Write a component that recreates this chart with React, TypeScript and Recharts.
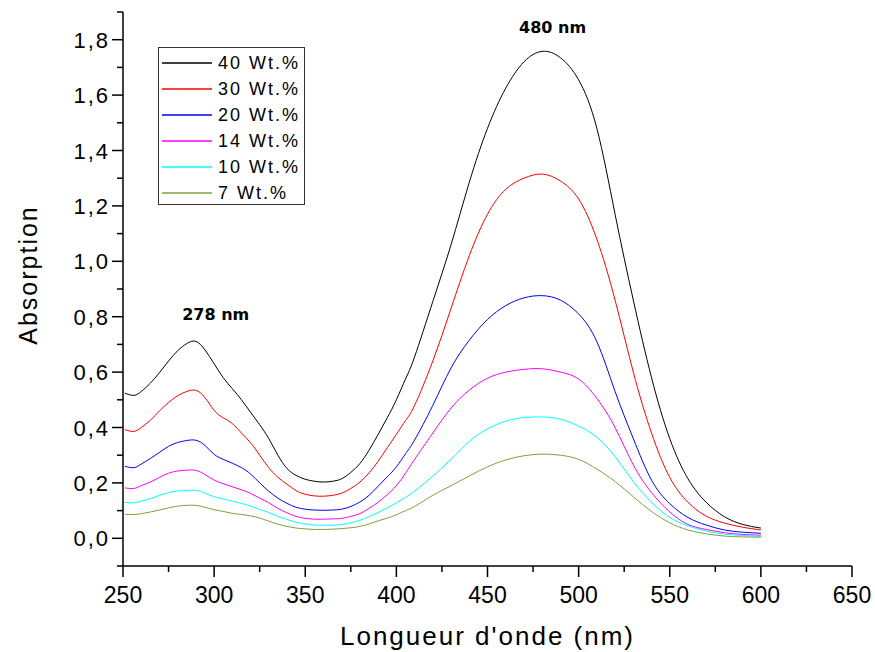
import React from 'react';
import { LineChart, Line, XAxis, YAxis, Legend, ReferenceDot } from 'recharts';

const WAVELENGTHS = [251, 256, 260, 265, 270, 275, 280, 285, 290, 295, 300, 305, 310, 315, 320, 325, 330, 335, 340, 345, 350, 355, 360, 365, 370, 375, 380, 385, 390, 395, 400, 405, 410, 420, 430, 440, 450, 460, 470, 480, 490, 500, 510, 520, 530, 540, 550, 560, 570, 580, 590, 600];

const WT40 = [0.524, 0.516, 0.53, 0.56, 0.598, 0.64, 0.677, 0.703, 0.711, 0.68, 0.63, 0.58, 0.54, 0.5, 0.455, 0.41, 0.36, 0.3, 0.252, 0.227, 0.213, 0.206, 0.203, 0.206, 0.215, 0.238, 0.27, 0.318, 0.375, 0.435, 0.5, 0.575, 0.655, 0.855, 1.06, 1.285, 1.48, 1.625, 1.72, 1.758, 1.735, 1.655, 1.48, 1.17, 0.86, 0.58, 0.36, 0.215, 0.13, 0.078, 0.05, 0.037];
const WT30 = [0.392, 0.386, 0.4, 0.426, 0.46, 0.49, 0.515, 0.53, 0.534, 0.508, 0.462, 0.435, 0.414, 0.38, 0.345, 0.3, 0.255, 0.22, 0.195, 0.172, 0.159, 0.153, 0.152, 0.155, 0.163, 0.18, 0.203, 0.236, 0.278, 0.327, 0.375, 0.425, 0.48, 0.64, 0.83, 1.02, 1.17, 1.26, 1.3, 1.315, 1.29, 1.225, 1.08, 0.86, 0.6, 0.38, 0.22, 0.13, 0.08, 0.055, 0.04, 0.03];
const WT20 = [0.26, 0.255, 0.268, 0.288, 0.31, 0.332, 0.346, 0.353, 0.354, 0.335, 0.303, 0.285, 0.271, 0.255, 0.232, 0.2, 0.17, 0.145, 0.126, 0.112, 0.105, 0.102, 0.101, 0.102, 0.105, 0.115, 0.131, 0.155, 0.188, 0.222, 0.258, 0.305, 0.355, 0.48, 0.615, 0.715, 0.79, 0.84, 0.868, 0.876, 0.86, 0.81, 0.71, 0.53, 0.36, 0.21, 0.125, 0.075, 0.048, 0.03, 0.022, 0.018];
const WT14 = [0.182, 0.18, 0.19, 0.203, 0.22, 0.235, 0.243, 0.246, 0.245, 0.23, 0.21, 0.197, 0.186, 0.175, 0.162, 0.145, 0.128, 0.108, 0.092, 0.079, 0.072, 0.069, 0.069, 0.07, 0.072, 0.079, 0.089, 0.108, 0.13, 0.158, 0.19, 0.235, 0.285, 0.38, 0.47, 0.535, 0.578, 0.6, 0.61, 0.612, 0.6, 0.575, 0.505, 0.4, 0.265, 0.165, 0.095, 0.05, 0.032, 0.02, 0.014, 0.011];
const WT10 = [0.13, 0.128, 0.134, 0.143, 0.155, 0.165, 0.171, 0.173, 0.173, 0.163, 0.15, 0.142, 0.134, 0.126, 0.116, 0.104, 0.093, 0.079, 0.068, 0.058, 0.052, 0.048, 0.047, 0.047, 0.05, 0.056, 0.065, 0.078, 0.093, 0.11, 0.128, 0.148, 0.17, 0.225, 0.285, 0.35, 0.395, 0.423, 0.436, 0.438, 0.43, 0.405, 0.365, 0.295, 0.205, 0.13, 0.075, 0.045, 0.026, 0.015, 0.01, 0.007];
const WT7 = [0.087, 0.086, 0.089, 0.095, 0.102, 0.11, 0.116, 0.119, 0.119, 0.112, 0.103, 0.097, 0.09, 0.086, 0.081, 0.073, 0.062, 0.051, 0.043, 0.037, 0.034, 0.032, 0.032, 0.033, 0.035, 0.038, 0.043, 0.052, 0.063, 0.073, 0.085, 0.1, 0.115, 0.155, 0.19, 0.225, 0.258, 0.283, 0.298, 0.304, 0.3, 0.285, 0.25, 0.205, 0.15, 0.097, 0.056, 0.03, 0.016, 0.008, 0.005, 0.004];

const SERIES_NAMES = ['40 Wt.%', '30 Wt.%', '20 Wt.%', '14 Wt.%', '10 Wt.%', '7 Wt.%'];
const SERIES_KEYS = ['wt40', 'wt30', 'wt20', 'wt14', 'wt10', 'wt7'];
const SERIES_COLORS = ['#000000', '#ff0000', '#0000ff', '#ff00ff', '#00ffff', '#7ba23f'];

const X_TICKS = [250, 275, 300, 325, 350, 375, 400, 425, 450, 475, 500, 525, 550, 575, 600, 625, 650];
const Y_TICKS = [-0.1, 0, 0.1, 0.2, 0.3, 0.4, 0.5, 0.6, 0.7, 0.8, 0.9, 1.0, 1.1, 1.2, 1.3, 1.4, 1.5, 1.6, 1.7, 1.8, 1.9];

const ANNOTATION_TEXTS = ['278 nm', '480 nm'];
const ANNOTATION_X = [300.9, 485.7];
const ANNOTATION_Y = [0.807, 1.845];

const data = WAVELENGTHS.map((wl, i) => ({
  wl,
  wt40: WT40[i],
  wt30: WT30[i],
  wt20: WT20[i],
  wt14: WT14[i],
  wt10: WT10[i],
  wt7: WT7[i],
}));

const FONT = 'Arial, "Liberation Sans", Helvetica, sans-serif';

const XTick = (props: any) => {
  const { x, y, payload } = props;
  const v = payload.value;
  const major = Math.round(v) % 50 === 0;
  return (
    <g>
      <line x1={x} y1={y} x2={x} y2={y + (major ? 11 : 6)} stroke="#000" strokeWidth={1.5} />
      {major && (
        <text x={x} y={y + 37} textAnchor="middle" fontSize={23} fontFamily={FONT} fill="#000">
          {String(v)}
        </text>
      )}
    </g>
  );
};

const YTick = (props: any) => {
  const { x, y, payload } = props;
  const v = payload.value;
  const tenths = Math.round(v * 10);
  const major = tenths % 2 === 0 && tenths >= 0 && tenths <= 18;
  return (
    <g>
      <line x1={x} y1={y} x2={x - (major ? 11 : 6)} y2={y} stroke="#000" strokeWidth={1.5} />
      {major && (
        <text x={x - 13} y={y + 8} textAnchor="end" fontSize={22} letterSpacing={2} fontFamily={FONT} fill="#000">
          {(tenths / 10).toFixed(1).replace('.', ',')}
        </text>
      )}
    </g>
  );
};

const YTitle = (props: any) => {
  const vb = props.viewBox || { x: 0, y: 0, width: 0, height: 0 };
  const cx = vb.x + 28;
  const cy = vb.y + vb.height / 2 - 14;
  return (
    <text x={cx} y={cy} transform={`rotate(-90 ${cx} ${cy})`} textAnchor="middle" dominantBaseline="central" fontSize={25} letterSpacing={2} fontFamily={FONT} fill="#000">
      Absorption
    </text>
  );
};

const XTitle = (props: any) => {
  const vb = props.viewBox || { x: 0, y: 0, width: 0, height: 0 };
  const cx = vb.x + vb.width / 2;
  const cy = vb.y + 79;
  return (
    <text x={cx} y={cy} textAnchor="middle" fontSize={26} letterSpacing={2} fontFamily={FONT} fill="#000">
      Longueur d'onde (nm)
    </text>
  );
};

const LegendBox = () => {
  return (
    <div
      style={{
        border: '1px solid #333',
        background: '#fff',
        width: 147,
        height: 158,
        boxSizing: 'border-box',
        paddingTop: 2,
        fontFamily: FONT,
      }}
    >
      {SERIES_NAMES.map((name, i) => (
        <div key={name} style={{ display: 'flex', alignItems: 'center', height: 26 }}>
          <svg width={53} height={4} style={{ display: 'block', flex: 'none' }}>
            <line x1={3} y1={2} x2={53} y2={2} stroke={SERIES_COLORS[i]} strokeWidth={1.3} />
          </svg>
          <span style={{ marginLeft: 6, fontSize: 18, letterSpacing: 2, color: '#000', lineHeight: '20px' }}>{name}</span>
        </div>
      ))}
    </div>
  );
};

export default function App() {
  return (
    <div style={{ position: 'absolute', left: 0, top: 0, width: 875, height: 652, background: '#fff' }}>
      <LineChart
        width={875}
        height={652}
        data={data}
        margin={{ top: 12, right: 23, left: 0, bottom: 0 }}
        style={{ fontFamily: FONT }}
      >
        <XAxis
          dataKey="wl"
          type="number"
          domain={[250, 650]}
          ticks={X_TICKS}
          interval={0}
          height={86}
          tickSize={0}
          tickMargin={0}
          tickLine={false}
          axisLine={{ stroke: '#000', strokeWidth: 1.5 }}
          tick={(p: any) => <XTick {...p} />}
          label={{ content: (p: any) => <XTitle {...p} /> }}
          allowDataOverflow
        />
        <YAxis
          type="number"
          domain={[-0.1, 1.9]}
          ticks={Y_TICKS}
          interval={0}
          width={123}
          tickSize={0}
          tickMargin={0}
          tickLine={false}
          axisLine={{ stroke: '#000', strokeWidth: 1.5 }}
          tick={(p: any) => <YTick {...p} />}
          label={{ content: (p: any) => <YTitle {...p} /> }}
          allowDataOverflow
        />
        <Legend
          layout="vertical"
          align="center"
          verticalAlign="middle"
          wrapperStyle={{ position: 'absolute', left: 158, top: 47, width: 147, height: 158 }}
          content={() => <LegendBox />}
        />
        {SERIES_KEYS.map((k, i) => (
          <Line
            key={k}
            type="natural"
            dataKey={k}
            name={SERIES_NAMES[i]}
            stroke={SERIES_COLORS[i]}
            strokeWidth={1}
            dot={false}
            activeDot={false}
            isAnimationActive={false}
          />
        ))}
        {ANNOTATION_TEXTS.map((t, i) => (
          <ReferenceDot
            key={t}
            x={ANNOTATION_X[i]}
            y={ANNOTATION_Y[i]}
            r={0}
            fill="none"
            stroke="none"
            label={{ value: t, position: 'center', fill: '#000', fontSize: 16, fontWeight: 'bold', fontFamily: '"DejaVu Sans", sans-serif' }}
          />
        ))}
      </LineChart>
    </div>
  );
}
